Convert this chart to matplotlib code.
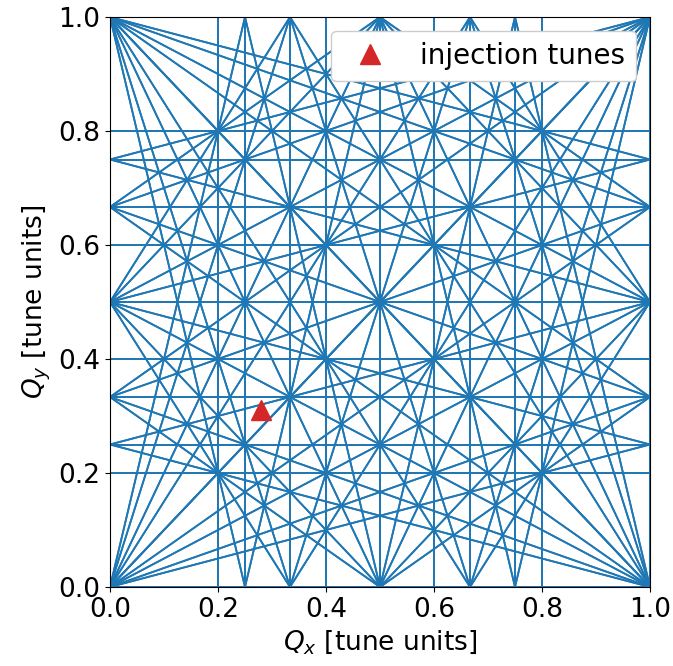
import numpy as np
import matplotlib
matplotlib.use("Agg")
import matplotlib.pyplot as plt

# Resonance order (lines m*Qx + n*Qy = p with |m|+|n| <= max_order)
max_order = 5
# Injection tunes
inj_qx = [0.28]
inj_qy = [0.31]
tick_values = [0.0, 0.2, 0.4, 0.6, 0.8, 1.0]

plt.rcParams['font.size'] = 19

fig = plt.figure(figsize=(6.73, 6.66), dpi=100)
ax = fig.add_axes([110/673, 1-587/666, 540/673, 570/666])

xs = np.array([0.0, 1.0])
for m in range(-max_order, max_order + 1):
    for n in range(-max_order, max_order + 1):
        if (m == 0 and n == 0) or abs(m) + abs(n) > max_order:
            continue
        pmin = min(0, m) + min(0, n)
        pmax = max(0, m) + max(0, n)
        for p in range(pmin, pmax + 1):
            if n == 0:
                ax.plot([p / m, p / m], [0, 1], color='C0', lw=1.3)
            else:
                ax.plot(xs, (p - m * xs) / n, color='C0', lw=1.3)

ax.plot(inj_qx, inj_qy, '^', color='tab:red', markersize=14, ls='none',
        label='injection tunes', zorder=5)

ax.set_xlim(0, 1)
ax.set_ylim(0, 1)
ax.set_xticks(tick_values)
ax.set_yticks(tick_values)
ax.set_xlabel(r'$Q_x$ [tune units]')
ax.set_ylabel(r'$Q_y$ [tune units]')
ax.legend(loc='upper right', framealpha=1, fontsize=20)

fig.savefig('out.png', dpi=100)
